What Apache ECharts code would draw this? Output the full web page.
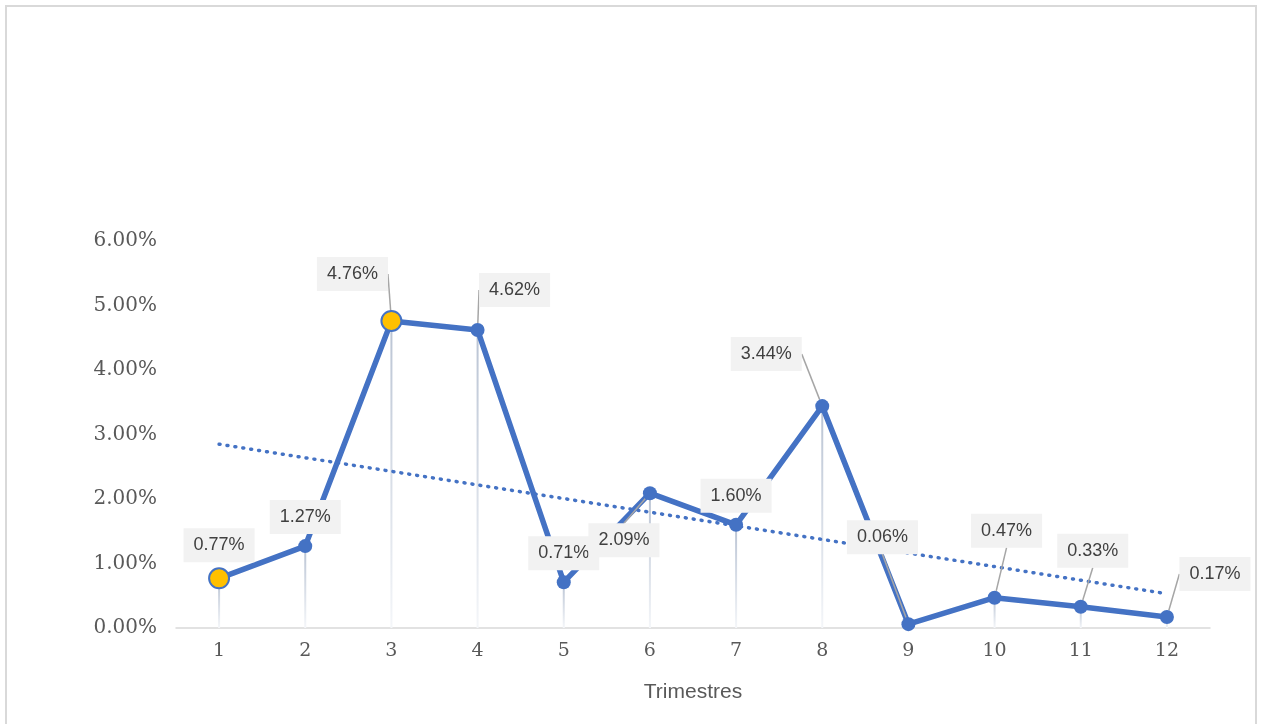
<!DOCTYPE html>
<html>
<head>
<meta charset="utf-8">
<title>Trimestres</title>
<script src="https://cdn.jsdelivr.net/npm/echarts@6/dist/echarts.min.js"></script>
<style>
    html, body {
        margin: 0;
        padding: 0;
        background: #fff;
        overflow: hidden;
    }
    #chart {
        width: 1263px;
        height: 724px;
    }
    #frame {
        position: absolute;
        left: 5px;
        top: 5px;
        width: 1248px;
        height: 760px;
        border: 2px solid #d9d9d9;
        pointer-events: none;
    }
</style>
</head>
<body>
<div id="chart"></div>
<div id="frame"></div>
<script>
// datos
const trimestres = ["1", "2", "3", "4", "5", "6", "7", "8", "9", "10", "11", "12"];
const variacion = [0.77, 1.27, 4.76, 4.62, 0.71, 2.09, 1.60, 3.44, 0.06, 0.47, 0.33, 0.17];
// tendencia lineal (extremos)
const tendencia = [2.85, null, null, null, null, null, null, null, null, null, null, 0.53];
const destacados = [0, 2]; // puntos resaltados en amarillo

// desplazamiento de etiquetas (px) respecto a la posicion "top"
const etiquetaDesp = {
    2: [-39, -14],
    3: [37, -11],
    5: [-26, 76],
    7: [-56, -23],
    8: [-26, -58],
    9: [12, -38],
    10: [12, -27],
    11: [48, -14],
};

const azul = "#4472C4";

const puntos = variacion.map((v, i) => {
    const item = { value: v };
    if (destacados.includes(i)) {
        item.symbolSize = 20;
        item.itemStyle = { color: "#FFC000", borderColor: azul, borderWidth: 2 };
    }
    if (etiquetaDesp[i]) {
        item.labelLine = { show: true };
    }
    return item;
});

const chart = echarts.init(document.getElementById("chart"));
const option = {
    animation: false,
    grid: {
        left: 176,
        right: 53,
        top: 241,
        bottom: 96,
    },
    xAxis: {
        type: "category",
        data: trimestres,
        boundaryGap: true,
        name: "Trimestres",
        nameLocation: "middle",
        nameGap: 54,
        nameTextStyle: {
            fontFamily: "Liberation Sans",
            fontSize: 21,
            color: "#595959",
        },
        axisLine: { lineStyle: { color: "#d9d9d9", width: 1.5 } },
        axisTick: { show: false },
        axisLabel: {
            margin: 14,
            fontFamily: "DejaVu Serif",
            fontSize: 19,
            color: "#595959",
        },
    },
    yAxis: {
        type: "value",
        min: 0,
        max: 6,
        interval: 1,
        splitLine: { show: false },
        axisLine: { show: false },
        axisTick: { show: false },
        axisLabel: {
            margin: 19,
            fontFamily: "DejaVu Serif",
            fontSize: 20,
            color: "#595959",
            formatter: (v) => v.toFixed(2) + "%",
        },
    },
    series: [
        {
            // lineas de caida
            type: "bar",
            data: variacion,
            barWidth: 2,
            z: 1,
            silent: true,
            itemStyle: {
                color: new echarts.graphic.LinearGradient(0, 0, 0, 1, [
                    { offset: 0, color: "#b9c3d3" },
                    { offset: 1, color: "#f4f6f9" },
                ]),
            },
        },
        {
            type: "line",
            data: tendencia,
            connectNulls: true,
            symbol: "none",
            z: 2,
            lineStyle: {
                color: azul,
                width: 3.5,
                type: [1, 7],
                cap: "round",
            },
        },
        {
            type: "line",
            data: puntos,
            z: 3,
            symbol: "circle",
            symbolSize: 14,
            itemStyle: { color: azul },
            lineStyle: { color: azul, width: 5.5 },
            label: {
                show: true,
                position: "top",
                distance: 5,
                formatter: (p) => p.value.toFixed(2) + "%",
                fontFamily: "Liberation Sans",
                fontSize: 18,
                color: "#404040",
                backgroundColor: "#f2f2f2",
                padding: [8, 10],
            },
            labelLine: {
                show: false,
                lineStyle: { color: "#a6a6a6", width: 1.5 },
            },
            labelLayout: (params) => {
                const d = etiquetaDesp[params.dataIndex];
                if (!d) return {};
                return { dx: d[0], dy: d[1] };
            },
        },
    ],
};
chart.setOption(option);
</script>
</body>
</html>
